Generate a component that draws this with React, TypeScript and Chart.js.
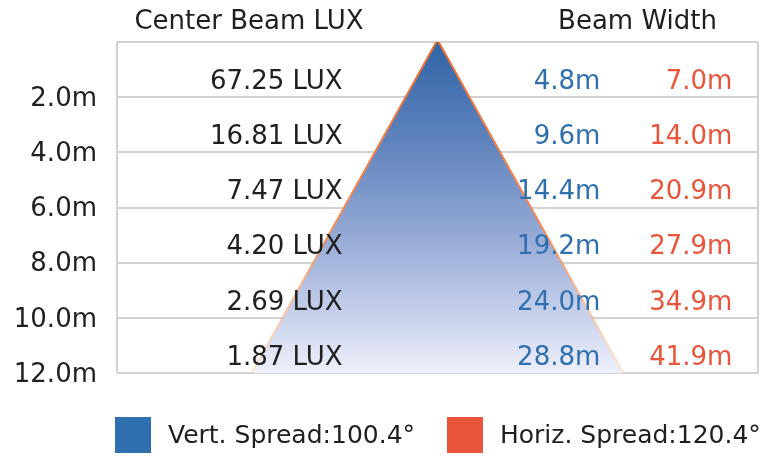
import React, { useEffect, useRef } from 'react';
import { Chart, registerables } from 'chart.js';

Chart.register(...registerables);

// ---- data ----
const distances = [2, 4, 6, 8, 10, 12];
const distanceTicks = [0, 2, 4, 6, 8, 10, 12];
const luxLabels = ['67.25 LUX', '16.81 LUX', '7.47 LUX', '4.20 LUX', '2.69 LUX', '1.87 LUX'];
const vertWidths = [4.8, 9.6, 14.4, 19.2, 24.0, 28.8];
const horizWidths = [7.0, 14.0, 20.9, 27.9, 34.9, 41.9];
const headerLabels = ['Center Beam LUX', 'Beam Width'];
const legendLabels = ['Vert. Spread:100.4°', 'Horiz. Spread:120.4°'];

const FONT = "'DejaVu Sans', sans-serif";
const BLUE = '#2f6fb0';
const ORANGE = '#e9553a';
const DARK = '#1f1f1f';

const maxDist = distances[distances.length - 1];
const halfBeam = vertWidths[vertWidths.length - 1] / 2;

const beamShape = [
  { x: -halfBeam, y: maxDist },
  { x: 0, y: 0 },
  { x: halfBeam, y: maxDist },
];

const overlayPlugin = {
  id: 'overlay',
  afterDraw(chart: any) {
    const { ctx, chartArea } = chart;
    const xs = chart.scales.x;
    const ys = chart.scales.y;
    ctx.save();
    ctx.font = `26px ${FONT}`;
    ctx.textBaseline = 'middle';

    // headers
    ctx.fillStyle = DARK;
    ctx.textAlign = 'center';
    ctx.fillText(headerLabels[0], xs.getPixelForValue(-14.7), chartArea.top - 20);
    ctx.fillText(headerLabels[1], xs.getPixelForValue(15.6), chartArea.top - 20);

    // row labels
    distances.forEach((d, i) => {
      const y = ys.getPixelForValue(d) - 15;
      ctx.textAlign = 'right';
      ctx.fillStyle = DARK;
      ctx.fillText(luxLabels[i], xs.getPixelForValue(-7.4), y);
      ctx.fillStyle = BLUE;
      ctx.fillText(vertWidths[i].toFixed(1) + 'm', xs.getPixelForValue(12.7), y);
      ctx.fillStyle = ORANGE;
      ctx.fillText(horizWidths[i].toFixed(1) + 'm', xs.getPixelForValue(23.0), y);
    });

    // legend
    ctx.font = `25px ${FONT}`;
    const ly = chartArea.bottom + 62;
    const items = [
      { color: BLUE, x: 115, tx: 168, label: legendLabels[0] },
      { color: ORANGE, x: 447, tx: 500, label: legendLabels[1] },
    ];
    items.forEach((it) => {
      ctx.fillStyle = it.color;
      ctx.fillRect(it.x, ly - 18, 36, 36);
      ctx.fillStyle = DARK;
      ctx.textAlign = 'left';
      ctx.fillText(it.label, it.tx, ly + 1);
    });
    ctx.restore();
  },
};

export default function App() {
  const canvasRef = useRef<HTMLCanvasElement>(null);

  useEffect(() => {
    if (!canvasRef.current) return;
    Chart.defaults.font.family = FONT;
    const chart = new Chart(canvasRef.current, {
      type: 'scatter',
      data: {
        datasets: [
          {
            label: legendLabels[0],
            data: beamShape,
            showLine: true,
            pointRadius: 0,
            borderWidth: 0,
            borderColor: 'rgba(0,0,0,0)',
            fill: 'start',
            backgroundColor: (c: any) => {
              const area = c.chart.chartArea;
              if (!area) return 'rgba(60,100,170,0.6)';
              const g = c.chart.ctx.createLinearGradient(0, area.top, 0, area.bottom);
              g.addColorStop(0, '#2f64a6');
              g.addColorStop(0.3, '#5f83bd');
              g.addColorStop(0.6, '#98acd6');
              g.addColorStop(0.85, '#cdd5ee');
              g.addColorStop(1, '#eef0fa');
              return g;
            },
          },
          {
            label: legendLabels[1],
            data: beamShape,
            showLine: true,
            pointRadius: 0,
            borderWidth: 4,
            fill: false,
            borderColor: (c: any) => {
              const area = c.chart.chartArea;
              if (!area) return '#f07a3c';
              const g = c.chart.ctx.createLinearGradient(0, area.top, 0, area.bottom);
              g.addColorStop(0, '#ee6a30');
              g.addColorStop(0.6, '#f5905a');
              g.addColorStop(1, 'rgba(250,190,150,0.4)');
              return g;
            },
          },
        ],
      },
      options: {
        animation: false,
        responsive: true,
        maintainAspectRatio: false,
        layout: { padding: { left: 0, top: 42, right: 14, bottom: 83 } },
        plugins: { legend: { display: false }, tooltip: { enabled: false } },
        scales: {
          x: {
            type: 'linear',
            min: -25,
            max: 25,
            z: 1,
            border: { display: false },
            grid: { color: '#d2d2d2', lineWidth: 2, drawTicks: false },
            ticks: { display: false, stepSize: 25 },
            afterFit: (s: any) => { s.height = 0; },
          },
          y: {
            type: 'linear',
            min: distanceTicks[0],
            max: distanceTicks[distanceTicks.length - 1],
            reverse: true,
            z: 1,
            border: { display: false },
            grid: { color: '#d2d2d2', lineWidth: 2, drawTicks: false },
            ticks: {
              stepSize: 2,
              padding: 20,
              labelOffset: 2,
              color: DARK,
              font: { size: 26, family: FONT },
              callback: (v: any) => (v === 0 ? '' : Number(v).toFixed(1) + 'm'),
            },
            afterFit: (s: any) => { s.width = 117; },
          },
        },
      },
      plugins: [overlayPlugin],
    });
    return () => chart.destroy();
  }, []);

  return (
    <div style={{ position: 'absolute', left: 0, top: 0, width: 772, height: 456, background: '#fff' }}>
      <canvas ref={canvasRef} />
    </div>
  );
}
